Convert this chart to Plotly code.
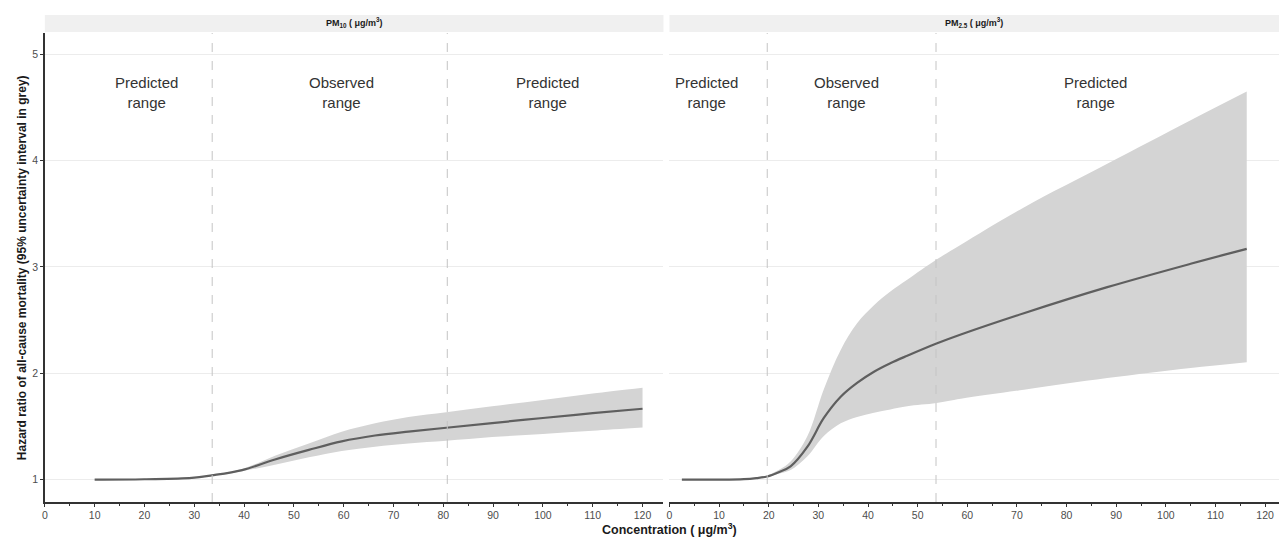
import plotly.graph_objects as go

# ---------------- data ----------------
pm10_x = [10, 20, 29.5, 33.5, 39.6, 46.2, 53, 59.6, 66.3, 73, 80.6, 89.8, 100, 110, 120]
pm10_hr = [1.0, 1.004, 1.016, 1.04, 1.09, 1.19, 1.28, 1.36, 1.415, 1.452, 1.488, 1.532, 1.58, 1.625, 1.667]
pm10_hi = [1.004, 1.008, 1.02, 1.045, 1.10, 1.225, 1.34, 1.45, 1.53, 1.59, 1.635, 1.69, 1.75, 1.81, 1.865]
pm10_lo = [0.996, 1.0, 1.012, 1.035, 1.08, 1.14, 1.21, 1.27, 1.31, 1.34, 1.365, 1.40, 1.43, 1.46, 1.49]

pm25_x = [2.5, 10, 15, 17.5, 19.7, 22, 24.4, 27.8, 31.1, 34.5, 37.8, 41.2, 44.5, 47.9, 53.8, 58.7, 71.4, 88.2, 105, 116.3]
pm25_hr = [1.0, 1.0, 1.005, 1.015, 1.03, 1.07, 1.125, 1.31, 1.58, 1.78, 1.91, 2.015, 2.095, 2.165, 2.28, 2.365, 2.565, 2.81, 3.03, 3.17]
pm25_hi = [1.0, 1.0, 1.006, 1.018, 1.04, 1.09, 1.17, 1.41, 1.85, 2.22, 2.47, 2.64, 2.77, 2.88, 3.07, 3.21, 3.56, 3.97, 4.38, 4.65]
pm25_lo = [1.0, 1.0, 1.004, 1.012, 1.025, 1.055, 1.09, 1.22, 1.41, 1.53, 1.59, 1.63, 1.66, 1.69, 1.72, 1.76, 1.845, 1.955, 2.05, 2.105]

pm10_cuts = [33.6, 80.8]
pm25_cuts = [19.7, 53.7]

pm10_labels_x = [20.5, 59.6, 101]
pm25_labels_x = [7.5, 35.6, 85.9]
range_labels = ["Predicted<br>range", "Observed<br>range", "Predicted<br>range"]
label_y = 4.64

strip_titles = ["PM<sub>10</sub> ( μg/m<sup>3</sup>)", "PM<sub>2.5</sub> ( μg/m<sup>3</sup>)"]
y_ticks = [1, 2, 3, 4, 5]
x_ticks = list(range(0, 121, 10))

# ---------------- figure ----------------
fig = go.Figure()
BAND = "#d4d4d4"
LINE = "#5f5f5f"
SM = 1.0

def add_panel(xs, hr, hi, lo, xa, ya):
    fig.add_trace(go.Scatter(x=xs, y=lo, mode="lines", line=dict(width=0, shape="spline", smoothing=SM),
                             xaxis=xa, yaxis=ya, showlegend=False, hoverinfo="skip"))
    fig.add_trace(go.Scatter(x=xs, y=hi, mode="lines", line=dict(width=0, shape="spline", smoothing=SM),
                             fill="tonexty", fillcolor=BAND,
                             xaxis=xa, yaxis=ya, showlegend=False, hoverinfo="skip"))
    fig.add_trace(go.Scatter(x=xs, y=hr, mode="lines", line=dict(color=LINE, width=2.2, shape="spline", smoothing=SM),
                             xaxis=xa, yaxis=ya, showlegend=False))

add_panel(pm10_x, pm10_hr, pm10_hi, pm10_lo, "x", "y")
add_panel(pm25_x, pm25_hr, pm25_hi, pm25_lo, "x2", "y2")

font_family = "Liberation Sans, Arial, sans-serif"

for cuts, xr, yr in [(pm10_cuts, "x", "y"), (pm25_cuts, "x2", "y2")]:
    for c in cuts:
        fig.add_shape(type="line", xref=xr, yref=yr + " domain", x0=c, x1=c, y0=0, y1=1,
                      line=dict(color="#c4c4c4", width=1, dash="dash"), layer="above")

for lx, xr, yr in [(pm10_labels_x, "x", "y"), (pm25_labels_x, "x2", "y2")]:
    for xv, t in zip(lx, range_labels):
        fig.add_annotation(x=xv, y=label_y, xref=xr, yref=yr, text=t, showarrow=False,
                           xanchor="center", yanchor="middle",
                           font=dict(size=15, color="#333333", family=font_family))

# strips
for i, (xd, t) in enumerate(zip([(0.0328, 0.5176), (0.5223, 1.0)], strip_titles)):
    fig.add_shape(type="rect", xref="paper", yref="paper", x0=xd[0], x1=xd[1], y0=0.9405, y1=0.972,
                  fillcolor="#f0f0f0", line=dict(width=0), layer="below")
    fig.add_annotation(x=(xd[0] + xd[1]) / 2, y=0.9575, xref="paper", yref="paper", text="<b>" + t + "</b>",
                       showarrow=False, xanchor="center", yanchor="middle",
                       font=dict(size=9, color="#1a1a1a", family=font_family))

axis_common = dict(
    tickmode="array", tickvals=x_ticks, ticks="outside", ticklen=3, tickwidth=1, tickcolor="#333333",
    showgrid=False, zeroline=False, showline=True, linecolor="#333333", linewidth=1.5,
    tickfont=dict(size=10.5, color="#4d4d4d", family=font_family),
    minor=dict(dtick=5, tick0=0, ticks="outside", ticklen=2, tickcolor="#333333", showgrid=False),
)

fig.update_layout(
    width=1279, height=537,
    margin=dict(l=0, r=0, t=0, b=0),
    paper_bgcolor="white", plot_bgcolor="white",
    font=dict(family=font_family),
    xaxis=dict(domain=[0.0328, 0.5176], range=[0, 124.2], anchor="y", **axis_common),
    xaxis2=dict(domain=[0.5223, 1.0], range=[0, 122.8], anchor="y2", **axis_common),
    yaxis=dict(domain=[0.0652, 0.9385], range=[0.79, 5.2], tickvals=y_ticks, ticks="outside", ticklen=3,
               tickcolor="#333333", showgrid=True, gridcolor="#ececec", gridwidth=1, zeroline=False,
               showline=True, linecolor="#333333", linewidth=1.5,
               tickfont=dict(size=10.5, color="#4d4d4d", family=font_family)),
    yaxis2=dict(domain=[0.0652, 0.9385], range=[0.79, 5.2], tickvals=y_ticks, showticklabels=False,
                ticks="", showgrid=True, gridcolor="#ececec", gridwidth=1, zeroline=False, showline=False,
                anchor="x2"),
)

fig.add_annotation(x=0.522, y=-0.004, xref="paper", yref="paper", xanchor="center", yanchor="bottom",
                   text="<b>Concentration ( μg/m<sup>3</sup>)</b>", showarrow=False,
                   font=dict(size=12.5, color="#1a1a1a", family=font_family))
fig.add_annotation(x=0.0155, y=0.502, xref="paper", yref="paper", textangle=-90,
                   xanchor="center", yanchor="middle",
                   text="<b>Hazard ratio of all-cause mortality (95% uncertainty interval in grey)</b>",
                   showarrow=False, font=dict(size=12, color="#1a1a1a", family=font_family))

fig.write_html("out.html")
